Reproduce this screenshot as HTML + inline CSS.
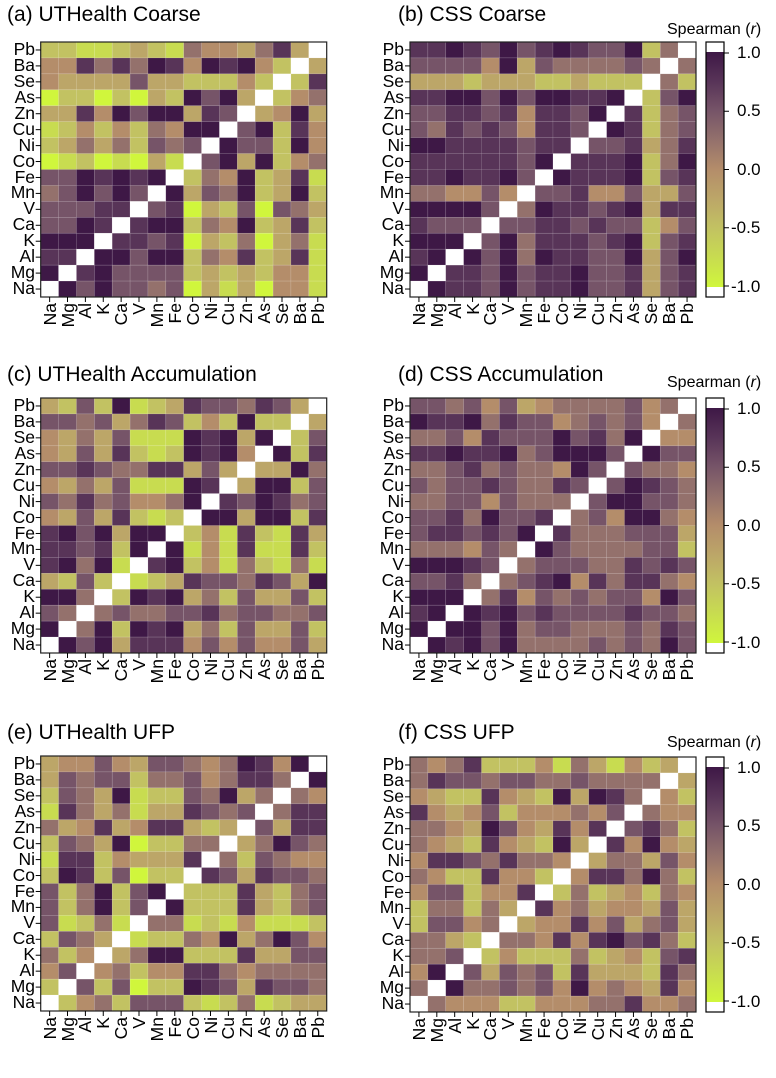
<!DOCTYPE html>
<html><head><meta charset="utf-8">
<style>
body{margin:0;background:#fff;width:776px;height:1050px;overflow:hidden;position:relative;font-family:"Liberation Sans",Arial,sans-serif;color:#000}
.t{position:absolute;font-size:21px;line-height:24px;white-space:nowrap}
.sp{position:absolute;font-size:16px;line-height:18px;white-space:nowrap}
.yl{position:absolute;width:34px;text-align:right;font-size:17.5px;line-height:15.94px;}
.yl div{height:15.94px}
.xl{position:absolute;width:60px;height:18px;line-height:18px;text-align:right;font-size:17.5px;transform-origin:100% 50%;transform:rotate(-90deg)}
.cbl{position:absolute;font-size:17px;line-height:18px}
svg{position:absolute;left:0;top:0}
</style></head><body>
<svg id="s" width="776" height="1050"></svg>

<div class="t" style="left:7px;top:3px">(a) UTHealth Coarse</div>
<div class="t" style="left:398px;top:3px">(b) CSS Coarse</div>
<div class="t" style="left:7px;top:363px">(c) UTHealth Accumulation</div>
<div class="t" style="left:398px;top:363px">(d) CSS Accumulation</div>
<div class="t" style="left:7px;top:721px">(e) UTHealth UFP</div>
<div class="t" style="left:398px;top:721px">(f) CSS UFP</div>

<div class="sp" style="left:667px;top:21px">Spearman (<i>r</i>)</div>
<div class="sp" style="left:667px;top:374px">Spearman (<i>r</i>)</div>
<div class="sp" style="left:667px;top:734px">Spearman (<i>r</i>)</div>

<script>
var D=[
{x:40.7,y:42,cb:0,r:[
"221123215443573W","44757587487842W3","4333363322242W27","022020328683W245",
"33748688376W3483","1242425488W68274","235352656W866284","01201031W6838245",
"6687878W25482371","568686W836582382","66677W6703260653","6687W78825482372",
"888W776703250351","77W8868825472371","8W78666623232441","W868665603130441"]},
{x:410,y:42,cb:1,r:[
"778768678766825W","66664836555565W5","3332333223222W52","778868688778W268",
"66776747768W7256","6576764776W87256","887777677W667357","77777768W7778258",
"7787786W87778267","554464W667446336","88886W5877678377","7666W66776766246",
"888W685777678267","78W8685877668368","8W77686778667367","W877686778667367"]},
{x:40.7,y:398,cb:0,r:[
"326281237665763W","66563576242822W3","4353611187838W26","436372128784W827",
"66765577363W3385","4353611187W38826","657564458W768756","43637212W8838827",
"7868388W24172173","776728W814171172","78581W7824152151","3262W12376657638",
"885W287835263362","65W5655667566556","8W58287835263362","W868377746464463"]},
{x:410,y:398,cb:1,r:[
"665646345555645W","87785766456564W5","5564766686758W44","778778568886W866",
"55675655486W6554","6566765576W68765","556646555W688665","66758667W5648854",
"6776768W75556663","555465W865555662","88876W5666557676","6675W56784757754",
"888W574656566486","78W8786766667665","8W88685665556576","W878685555656586"]},
{x:40.7,y:756,cb:0,r:[
"344643665458748W","36566255645775W8","2653812265835W54","175351337656W577",
"53473477323W6377","2653802255W35865","177243337W526544","28726022W7637665",
"6258268W22273256","625826W822273256","61251W5512141112","2653W12254835864",
"524W358822273366","46W4524477545555","2W62602287637665","W245266621251233"]},
{x:410,y:757,cb:1,r:[
"545722241531423W","57665665565555W3","4322743283875W42","743462444546W544",
"55438643747W6752","5432743283W74843","477657554W355364","54227442W4775852",
"4662447W25234254","255253W745344363","26645W3447463563","5532W55474786752",
"556W242225234267","48W6365627333275","5W85565648454374","W544422444557445"]}
];
var stops=[[0,[208,246,60]],[0.125,[200,220,80]],[0.25,[194,194,98]],[0.375,[188,166,104]],[0.5,[180,141,106]],[0.625,[148,113,108]],[0.75,[118,84,104]],[0.875,[88,52,88]],[1,[62,24,70]]];
function col(v){
  for(var i=1;i<stops.length;i++){if(v<=stops[i][0]){var a=stops[i-1],b=stops[i],t=(v-a[0])/(b[0]-a[0]);
  return "rgb("+[0,1,2].map(function(k){return Math.round(a[1][k]+(b[1][k]-a[1][k])*t)}).join(",")+")";}}
  return "rgb(62,24,70)";
}
var s=document.getElementById('s'),h='';
var W=286,H=255,cw=W/16,ch=H/16;
D.forEach(function(p){
  p.r.forEach(function(row,ri){
    for(var ci=0;ci<16;ci++){
      var c=row[ci],f;
      if(c==='W'||c===undefined)f='#fff';else f=col(parseInt(c)/8);
      h+='<rect x="'+(p.x+ci*cw).toFixed(2)+'" y="'+(p.y+ri*ch).toFixed(2)+'" width="'+cw.toFixed(2)+'" height="'+ch.toFixed(2)+'" fill="'+f+'" stroke="rgba(255,255,255,0.18)" stroke-width="0.6"/>';
    }
  });
  h+='<rect x="'+p.x+'" y="'+p.y+'" width="'+W+'" height="'+H+'" fill="none" stroke="#222" stroke-width="1.2"/>';
  for(var i=0;i<16;i++){
    var yy=p.y+(i+0.5)*ch, xx=p.x+(i+0.5)*cw;
    h+='<line x1="'+(p.x-5)+'" x2="'+p.x+'" y1="'+yy+'" y2="'+yy+'" stroke="#000" stroke-width="1"/>';
    h+='<line x1="'+xx+'" x2="'+xx+'" y1="'+(p.y+H)+'" y2="'+(p.y+H+5)+'" stroke="#000" stroke-width="1"/>';
  }
  if(p.cb){
    var cx=706,cy=p.y,top=cy+10,bot=cy+H-10;
    h+='<defs><linearGradient id="g'+p.y+'" x1="0" y1="0" x2="0" y2="1">';
    stops.slice().reverse().forEach(function(st){h+='<stop offset="'+(1-st[0])+'" stop-color="'+col(st[0])+'"/>'});
    h+='</linearGradient></defs>';
    h+='<rect x="'+cx+'" y="'+top+'" width="18" height="'+(bot-top)+'" fill="url(#g'+p.y+')"/>';
    h+='<rect x="'+cx+'" y="'+cy+'" width="18" height="'+H+'" fill="none" stroke="#000" stroke-width="1.2"/>';
    [1,0.5,0,-0.5,-1].forEach(function(v){var y=cy+11+(1-v)/2*(H-22);
      h+='<line x1="724" x2="729" y1="'+y+'" y2="'+y+'" stroke="#000"/>';});
  }
});
s.innerHTML=h;
</script>

<div class="yl" style="left:1px;top:42px"><div>Pb</div><div>Ba</div><div>Se</div><div>As</div><div>Zn</div><div>Cu</div><div>Ni</div><div>Co</div><div>Fe</div><div>Mn</div><div>V</div><div>Ca</div><div>K</div><div>Al</div><div>Mg</div><div>Na</div></div>
<div class="yl" style="left:370px;top:42px"><div>Pb</div><div>Ba</div><div>Se</div><div>As</div><div>Zn</div><div>Cu</div><div>Ni</div><div>Co</div><div>Fe</div><div>Mn</div><div>V</div><div>Ca</div><div>K</div><div>Al</div><div>Mg</div><div>Na</div></div>
<div class="yl" style="left:1px;top:398px"><div>Pb</div><div>Ba</div><div>Se</div><div>As</div><div>Zn</div><div>Cu</div><div>Ni</div><div>Co</div><div>Fe</div><div>Mn</div><div>V</div><div>Ca</div><div>K</div><div>Al</div><div>Mg</div><div>Na</div></div>
<div class="yl" style="left:370px;top:398px"><div>Pb</div><div>Ba</div><div>Se</div><div>As</div><div>Zn</div><div>Cu</div><div>Ni</div><div>Co</div><div>Fe</div><div>Mn</div><div>V</div><div>Ca</div><div>K</div><div>Al</div><div>Mg</div><div>Na</div></div>
<div class="yl" style="left:1px;top:756px"><div>Pb</div><div>Ba</div><div>Se</div><div>As</div><div>Zn</div><div>Cu</div><div>Ni</div><div>Co</div><div>Fe</div><div>Mn</div><div>V</div><div>Ca</div><div>K</div><div>Al</div><div>Mg</div><div>Na</div></div>
<div class="yl" style="left:370px;top:757px"><div>Pb</div><div>Ba</div><div>Se</div><div>As</div><div>Zn</div><div>Cu</div><div>Ni</div><div>Co</div><div>Fe</div><div>Mn</div><div>V</div><div>Ca</div><div>K</div><div>Al</div><div>Mg</div><div>Na</div></div>

<div style="position:absolute;left:0;top:0">
<div class="xl" style="left:-10.4px;top:294px">Na</div><div class="xl" style="left:7.5px;top:294px">Mg</div><div class="xl" style="left:25.4px;top:294px">Al</div><div class="xl" style="left:43.3px;top:294px">K</div><div class="xl" style="left:61.1px;top:294px">Ca</div><div class="xl" style="left:79px;top:294px">V</div><div class="xl" style="left:96.9px;top:294px">Mn</div><div class="xl" style="left:114.8px;top:294px">Fe</div><div class="xl" style="left:132.6px;top:294px">Co</div><div class="xl" style="left:150.5px;top:294px">Ni</div><div class="xl" style="left:168.4px;top:294px">Cu</div><div class="xl" style="left:186.3px;top:294px">Zn</div><div class="xl" style="left:204.1px;top:294px">As</div><div class="xl" style="left:222px;top:294px">Se</div><div class="xl" style="left:239.9px;top:294px">Ba</div><div class="xl" style="left:257.8px;top:294px">Pb</div>
<div class="xl" style="left:358.9px;top:294px">Na</div><div class="xl" style="left:376.8px;top:294px">Mg</div><div class="xl" style="left:394.7px;top:294px">Al</div><div class="xl" style="left:412.6px;top:294px">K</div><div class="xl" style="left:430.4px;top:294px">Ca</div><div class="xl" style="left:448.3px;top:294px">V</div><div class="xl" style="left:466.2px;top:294px">Mn</div><div class="xl" style="left:484.1px;top:294px">Fe</div><div class="xl" style="left:501.9px;top:294px">Co</div><div class="xl" style="left:519.8px;top:294px">Ni</div><div class="xl" style="left:537.7px;top:294px">Cu</div><div class="xl" style="left:555.6px;top:294px">Zn</div><div class="xl" style="left:573.4px;top:294px">As</div><div class="xl" style="left:591.3px;top:294px">Se</div><div class="xl" style="left:609.2px;top:294px">Ba</div><div class="xl" style="left:627.1px;top:294px">Pb</div>
<div class="xl" style="left:-10.4px;top:650px">Na</div><div class="xl" style="left:7.5px;top:650px">Mg</div><div class="xl" style="left:25.4px;top:650px">Al</div><div class="xl" style="left:43.3px;top:650px">K</div><div class="xl" style="left:61.1px;top:650px">Ca</div><div class="xl" style="left:79px;top:650px">V</div><div class="xl" style="left:96.9px;top:650px">Mn</div><div class="xl" style="left:114.8px;top:650px">Fe</div><div class="xl" style="left:132.6px;top:650px">Co</div><div class="xl" style="left:150.5px;top:650px">Ni</div><div class="xl" style="left:168.4px;top:650px">Cu</div><div class="xl" style="left:186.3px;top:650px">Zn</div><div class="xl" style="left:204.1px;top:650px">As</div><div class="xl" style="left:222px;top:650px">Se</div><div class="xl" style="left:239.9px;top:650px">Ba</div><div class="xl" style="left:257.8px;top:650px">Pb</div>
<div class="xl" style="left:358.9px;top:650px">Na</div><div class="xl" style="left:376.8px;top:650px">Mg</div><div class="xl" style="left:394.7px;top:650px">Al</div><div class="xl" style="left:412.6px;top:650px">K</div><div class="xl" style="left:430.4px;top:650px">Ca</div><div class="xl" style="left:448.3px;top:650px">V</div><div class="xl" style="left:466.2px;top:650px">Mn</div><div class="xl" style="left:484.1px;top:650px">Fe</div><div class="xl" style="left:501.9px;top:650px">Co</div><div class="xl" style="left:519.8px;top:650px">Ni</div><div class="xl" style="left:537.7px;top:650px">Cu</div><div class="xl" style="left:555.6px;top:650px">Zn</div><div class="xl" style="left:573.4px;top:650px">As</div><div class="xl" style="left:591.3px;top:650px">Se</div><div class="xl" style="left:609.2px;top:650px">Ba</div><div class="xl" style="left:627.1px;top:650px">Pb</div>
<div class="xl" style="left:-10.4px;top:1008px">Na</div><div class="xl" style="left:7.5px;top:1008px">Mg</div><div class="xl" style="left:25.4px;top:1008px">Al</div><div class="xl" style="left:43.3px;top:1008px">K</div><div class="xl" style="left:61.1px;top:1008px">Ca</div><div class="xl" style="left:79px;top:1008px">V</div><div class="xl" style="left:96.9px;top:1008px">Mn</div><div class="xl" style="left:114.8px;top:1008px">Fe</div><div class="xl" style="left:132.6px;top:1008px">Co</div><div class="xl" style="left:150.5px;top:1008px">Ni</div><div class="xl" style="left:168.4px;top:1008px">Cu</div><div class="xl" style="left:186.3px;top:1008px">Zn</div><div class="xl" style="left:204.1px;top:1008px">As</div><div class="xl" style="left:222px;top:1008px">Se</div><div class="xl" style="left:239.9px;top:1008px">Ba</div><div class="xl" style="left:257.8px;top:1008px">Pb</div>
<div class="xl" style="left:358.9px;top:1009px">Na</div><div class="xl" style="left:376.8px;top:1009px">Mg</div><div class="xl" style="left:394.7px;top:1009px">Al</div><div class="xl" style="left:412.6px;top:1009px">K</div><div class="xl" style="left:430.4px;top:1009px">Ca</div><div class="xl" style="left:448.3px;top:1009px">V</div><div class="xl" style="left:466.2px;top:1009px">Mn</div><div class="xl" style="left:484.1px;top:1009px">Fe</div><div class="xl" style="left:501.9px;top:1009px">Co</div><div class="xl" style="left:519.8px;top:1009px">Ni</div><div class="xl" style="left:537.7px;top:1009px">Cu</div><div class="xl" style="left:555.6px;top:1009px">Zn</div><div class="xl" style="left:573.4px;top:1009px">As</div><div class="xl" style="left:591.3px;top:1009px">Se</div><div class="xl" style="left:609.2px;top:1009px">Ba</div><div class="xl" style="left:627.1px;top:1009px">Pb</div>
</div>

<div class="cbl" style="left:737px;top:44px">1.0</div><div class="cbl" style="left:737px;top:102px">0.5</div><div class="cbl" style="left:737px;top:161px">0.0</div><div class="cbl" style="left:731px;top:219px">-0.5</div><div class="cbl" style="left:731px;top:278px">-1.0</div>
<div class="cbl" style="left:737px;top:400px">1.0</div><div class="cbl" style="left:737px;top:458px">0.5</div><div class="cbl" style="left:737px;top:517px">0.0</div><div class="cbl" style="left:731px;top:575px">-0.5</div><div class="cbl" style="left:731px;top:634px">-1.0</div>
<div class="cbl" style="left:737px;top:759px">1.0</div><div class="cbl" style="left:737px;top:817px">0.5</div><div class="cbl" style="left:737px;top:876px">0.0</div><div class="cbl" style="left:731px;top:934px">-0.5</div><div class="cbl" style="left:731px;top:993px">-1.0</div>
</body></html>
